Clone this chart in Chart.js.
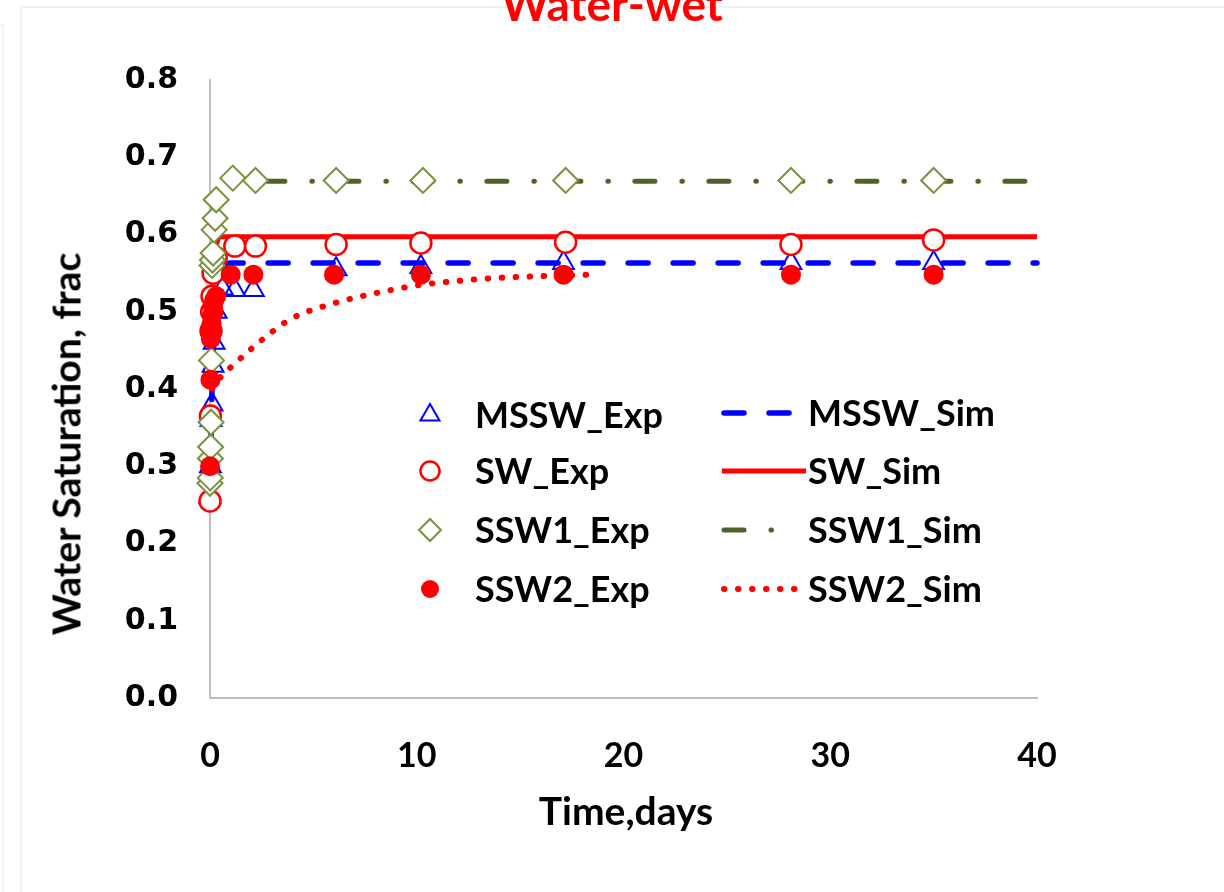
<!DOCTYPE html>
<html lang="en">
<head>
  <meta charset="UTF-8">
  <title>Water-wet</title>
  <style>
    html, body { margin: 0; padding: 0; background: #fff; }
    body { width: 1224px; height: 892px; position: relative; overflow: hidden; font-family: Lato, sans-serif; }
    .frame-a { position: absolute; left: 20px; top: 6px; width: 1220px; height: 900px; border: 2px solid #f1f1f1; box-sizing: border-box; }
    .frame-b { position: absolute; left: -10px; top: 24px; width: 14px; height: 900px; border: 2px solid #f3f3f3; box-sizing: border-box; }
    #title { position: absolute; left: 0; top: -19px; width: 1224px; text-align: center; color: #ff0000;
             font: bold 46px Lato, sans-serif; line-height: 46px; }
    #wrap { position: absolute; left: 0; top: 0; width: 1224px; height: 892px; }
    .axis-title { position: absolute; font-weight: bold; color: #000; line-height: 1; white-space: nowrap;
                  transform: translate(-50%, -50%); }
    #ytitle { left: 66px; top: 444px; font-size: 39px; transform: translate(-50%, -50%) rotate(-90deg); }
    #xtitle { left: 626px; top: 810px; font-size: 39px; }
  </style>
  <script src="https://cdn.jsdelivr.net/npm/chart.js"></script>
</head>
<body>
  <div class="frame-b"></div>
  <div class="frame-a"></div>
  <div id="wrap"><canvas id="chart" width="1224" height="892"></canvas></div>
  <div id="title">Water-wet</div>
  <div class="axis-title" id="ytitle">Water Saturation, frac</div>
  <div class="axis-title" id="xtitle">Time,days</div>

  <script>
    // experimental points (time in days, water saturation)
    const msswExpT = [0, 0.02, 0.05, 0.1, 0.15, 0.2, 0.3, 0.6, 1.2, 2.1, 6.1, 10.2, 17.1, 28.1, 35];
    const msswExpS = [0.26, 0.30, 0.36, 0.38, 0.43, 0.46, 0.50, 0.53, 0.528, 0.528, 0.555, 0.558, 0.563, 0.563, 0.563];

    const swExpT = [0, 0.02, 0.05, 0.08, 0.1, 0.15, 0.3, 1.2, 2.2, 6.1, 10.2, 17.2, 28.1, 35];
    const swExpS = [0.255, 0.365, 0.475, 0.50, 0.52, 0.55, 0.57, 0.585, 0.585, 0.587, 0.589, 0.590, 0.587, 0.593];

    const ssw1ExpT = [0, 0.01, 0.02, 0.03, 0.05, 0.07, 0.1, 0.12, 0.15, 0.2, 0.25, 0.3, 1.1, 2.2, 6.1, 10.3, 17.2, 28.1, 35];
    const ssw1ExpS = [0.278, 0.285, 0.31, 0.325, 0.357, 0.437, 0.56, 0.567, 0.576, 0.606, 0.621, 0.645, 0.673, 0.670, 0.670, 0.670, 0.670, 0.670, 0.670];

    const ssw2ExpT = [0, 0.02, 0.04, 0.06, 0.08, 0.1, 0.15, 0.2, 0.3, 1.0, 2.1, 6.0, 10.2, 17.1, 28.1, 35];
    const ssw2ExpS = [0.30, 0.412, 0.465, 0.475, 0.485, 0.495, 0.505, 0.515, 0.52, 0.548, 0.548, 0.548, 0.548, 0.548, 0.548, 0.548];

    // simulated curves
    const msswSimT = [0, 0.1, 0.25, 0.5, 1, 40];
    const msswSimS = [0.27, 0.40, 0.50, 0.55, 0.563, 0.563];

    const swSimT = [0.2, 0.45, 40];
    const swSimS = [0.57, 0.597, 0.597];

    const ssw1SimT = [0.1, 0.5, 1.0, 1.5, 40];
    const ssw1SimS = [0.62, 0.648, 0.662, 0.669, 0.669];

    const ssw2SimT = [0.1, 0.5, 1, 2, 3, 4, 6, 8, 10, 12, 14, 16, 18.4];
    const ssw2SimS = [0.40, 0.415, 0.428, 0.452, 0.474, 0.492, 0.511, 0.524, 0.534, 0.540, 0.544, 0.546, 0.548];

    const xTicks = [0, 10, 20, 30, 40];
    const yTicks = [0, 0.1, 0.2, 0.3, 0.4, 0.5, 0.6, 0.7, 0.8];

    const pts = (t, s) => t.map((v, i) => ({ x: v, y: s[i] }));

    const BLUE = '#0000ff', RED = '#ff0000', OLIVE = '#77933c', DARK_OLIVE = '#4f6228';

    function expSet(label, t, s, style, radius, fill, stroke, bw) {
      return {
        label, data: pts(t, s), showLine: false, clip: false,
        pointStyle: style, pointRadius: radius, pointHoverRadius: radius,
        pointBackgroundColor: fill, pointBorderColor: stroke, pointBorderWidth: bw,
        backgroundColor: fill, borderColor: stroke
      };
    }
    function simSet(label, t, s, color, width, dash, cap) {
      return {
        label, data: pts(t, s), showLine: true, clip: false, pointRadius: 0,
        borderColor: color, backgroundColor: color, borderWidth: width,
        borderDash: dash, borderCapStyle: cap, cubicInterpolationMode: 'monotone'
      };
    }

    // first dataset is painted on top
    const datasets = [
      expSet('SSW2_Exp', ssw2ExpT, ssw2ExpS, 'circle', 10, RED, RED, 0),
      expSet('SSW1_Exp', ssw1ExpT, ssw1ExpS, 'rectRot', 12.5, '#ffffff', OLIVE, 2),
      expSet('SW_Exp', swExpT, swExpS, 'circle', 10.5, '#ffffff', RED, 2.5),
      expSet('MSSW_Exp', msswExpT, msswExpS, 'triangle', 12, 'rgba(0,0,0,0)', BLUE, 2),
      simSet('SSW2_Sim', ssw2SimT, ssw2SimS, RED, 6, [0.5, 13.5], 'round'),
      simSet('SSW1_Sim', ssw1SimT, ssw1SimS, DARK_OLIVE, 5, [20, 27, 0.5, 26.5], 'round'),
      simSet('SW_Sim', swSimT, swSimS, RED, 5, [], 'butt'),
      simSet('MSSW_Sim', msswSimT, msswSimS, BLUE, 5.5, [20, 25], 'round')
    ];

    // legend drawn inside the plot: two columns, four rows
    const insideLegend = {
      id: 'insideLegend',
      afterDraw(chart, args, opts) {
        const ctx = chart.ctx;
        ctx.save();
        ctx.font = opts.font;
        ctx.textBaseline = 'middle';
        opts.items.forEach(it => {
          const ds = chart.data.datasets.find(d => d.label === it.label);
          ctx.setLineDash([]);
          if (it.kind === 'point') {
            ctx.fillStyle = ds.pointBackgroundColor;
            ctx.strokeStyle = ds.pointBorderColor;
            ctx.lineWidth = ds.pointBorderWidth;
            Chart.helpers.drawPoint(ctx, {
              pointStyle: ds.pointStyle, radius: it.r, rotation: 0, borderWidth: ds.pointBorderWidth
            }, it.x, it.y);
          } else {
            ctx.strokeStyle = ds.borderColor;
            ctx.lineWidth = ds.borderWidth;
            ctx.lineCap = ds.borderCapStyle;
            ctx.setLineDash(ds.borderDash || []);
            ctx.beginPath();
            ctx.moveTo(it.x, it.y);
            ctx.lineTo(it.x + it.w, it.y);
            ctx.stroke();
            ctx.setLineDash([]);
          }
          ctx.fillStyle = '#000';
          ctx.fillText(ds.label, it.tx, it.y + 1);
        });
        ctx.restore();
      }
    };

    const rowsY = [413, 471, 530, 589];
    const legendItems = [
      { label: 'MSSW_Exp', kind: 'point', x: 430, y: rowsY[0] + 2, r: 11, tx: 475 },
      { label: 'SW_Exp', kind: 'point', x: 430, y: rowsY[1], r: 9.5, tx: 475 },
      { label: 'SSW1_Exp', kind: 'point', x: 430, y: rowsY[2], r: 11, tx: 475 },
      { label: 'SSW2_Exp', kind: 'point', x: 430, y: rowsY[3], r: 9, tx: 475 },
      { label: 'MSSW_Sim', kind: 'line', x: 724, w: 80, y: rowsY[0], tx: 808 },
      { label: 'SW_Sim', kind: 'line', x: 722, w: 84, y: rowsY[1], tx: 808 },
      { label: 'SSW1_Sim', kind: 'line', x: 724, w: 50, y: rowsY[2], tx: 808 },
      { label: 'SSW2_Sim', kind: 'line', x: 724, w: 78, y: rowsY[3], tx: 808 }
    ];

    new Chart(document.getElementById('chart'), {
      type: 'scatter',
      data: { datasets },
      plugins: [insideLegend],
      options: {
        responsive: false,
        animation: false,
        events: [],
        layout: { padding: { left: 0, right: 187, top: 80, bottom: 0 } },
        plugins: {
          legend: { display: false },
          tooltip: { enabled: false },
          insideLegend: { font: 'bold 36px Lato', items: legendItems }
        },
        scales: {
          x: {
            type: 'linear', min: xTicks[0], max: xTicks[xTicks.length - 1],
            afterBuildTicks: s => { s.ticks = xTicks.map(v => ({ value: v })); },
            ticks: { padding: 38, color: '#000', font: { family: 'Lato', weight: 'bold', size: 34 } },
            grid: { display: false, drawTicks: false },
            border: { display: true, color: '#bfbfbf', width: 2 },
            afterFit: s => { s.height = 194; }
          },
          y: {
            type: 'linear', min: yTicks[0], max: yTicks[yTicks.length - 1],
            afterBuildTicks: s => { s.ticks = yTicks.map(v => ({ value: v })); },
            ticks: { padding: 32, color: '#000', callback: v => v.toFixed(1),
                     font: { family: 'DejaVu Sans', weight: 'bold', size: 30 } },
            grid: { display: false, drawTicks: false },
            border: { display: true, color: '#bfbfbf', width: 2 },
            afterFit: s => { s.width = 210; }
          }
        }
      }
    });
  </script>
</body>
</html>
